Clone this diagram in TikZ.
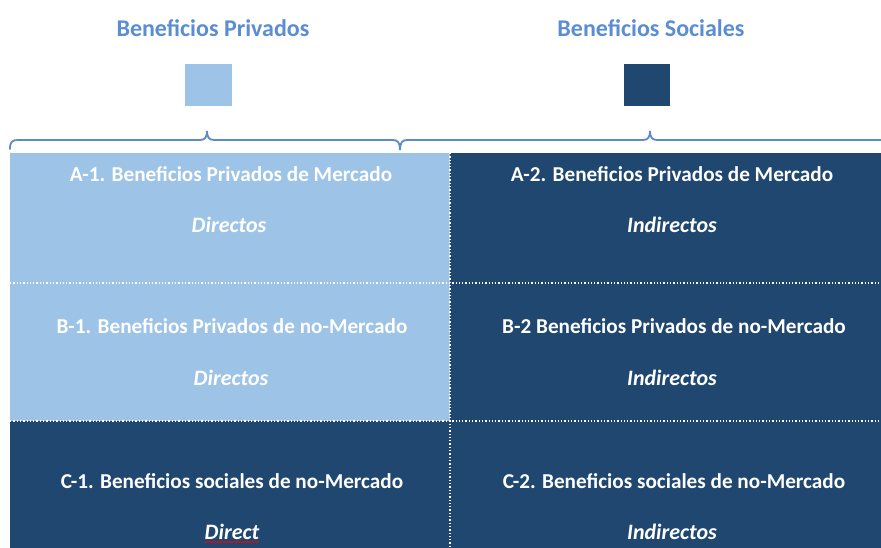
\documentclass[tikz,border=0pt]{standalone}
\usepackage{fontspec}
\setmainfont{Carlito}
\usetikzlibrary{decorations.pathmorphing}
\definecolor{lightb}{HTML}{9DC3E6}
\definecolor{darkb}{HTML}{1F4770}
\definecolor{headb}{HTML}{5B8DD3}
\definecolor{braceb}{HTML}{5A8BC4}
\tikzset{
  title/.style={text=white,font=\bfseries\fontsize{21.2}{23}\selectfont,inner sep=0pt},
  sub/.style={text=white,font=\bfseries\itshape\fontsize{22}{24}\selectfont,inner sep=0pt},
  head/.style={text=headb,font=\bfseries\fontsize{24}{26}\selectfont,inner sep=0pt},
  sep/.style={white,line width=1.3pt,dotted},
  bracestyle/.style={braceb,line width=1.8pt,line cap=round}
}
\begin{document}
\begin{tikzpicture}[x=1pt,y=-1pt]
\useasboundingbox[fill=white] (0,0) rectangle (881,548);
% cells
\fill[lightb] (10,153) rectangle (450,283);
\fill[lightb] (10,283) rectangle (450,421);
\fill[darkb] (10,421) rectangle (450,548);
\fill[darkb] (450,153) rectangle (881,548);
\draw[sep] (10,283) -- (881,283);
\draw[sep] (10,421) -- (881,421);
\draw[sep] (450,153) -- (450,548);
% headers
\node[head] (hp) at (213,28) {Beneficios Privados};
\node[head] (hs) at (651,28) {Beneficios Sociales};
\node[fill=lightb,minimum width=47pt,minimum height=42pt,inner sep=0pt] (sqp) at (208.5,85) {};
\node[fill=darkb,minimum width=46pt,minimum height=42pt,inner sep=0pt] (sqs) at (647,85) {};
% braces
\draw[bracestyle] (10,149) .. controls (10,142) and (12,140) .. (18,140) -- (200,140)
  .. controls (205,140) and (207,137) .. (207,131)
  .. controls (207,137) and (209,140) .. (214,140) -- (393,140)
  .. controls (398,140) and (400,143) .. (400,150)
  .. controls (400,143) and (402,140) .. (407,140) -- (643,140)
  .. controls (648,140) and (650,137) .. (650,131)
  .. controls (650,137) and (652,140) .. (657,140) -- (881,140);
% texts
\node[title] (a1) at (231,174) {A-1. Beneficios Privados de Mercado};
\node[sub] (a1s) at (229,225) {Directos};
\node[title] (a2) at (672,174) {A-2. Beneficios Privados de Mercado};
\node[sub] (a2s) at (672,225) {Indirectos};
\node[title] (b1) at (232,326) {B-1. Beneficios Privados de no-Mercado};
\node[sub] (b1s) at (231,378) {Directos};
\node[title] (b2) at (674,326) {B-2 Beneficios Privados de no-Mercado};
\node[sub] (b2s) at (672,378) {Indirectos};
\node[title] (c1) at (232,481) {C-1. Beneficios sociales de no-Mercado};
\node[sub] (c1s) at (232,532) {Direct};
\node[title] (c2) at (674,481) {C-2. Beneficios sociales de no-Mercado};
\node[sub] (c2s) at (672,532) {Indirectos};
\draw[red,line width=0.6pt,decorate,decoration={snake,amplitude=0.8pt,segment length=2.5pt}]
  ([yshift=-2pt]c1s.south west) -- ([yshift=-2pt]c1s.south east);
\end{tikzpicture}
\end{document}
